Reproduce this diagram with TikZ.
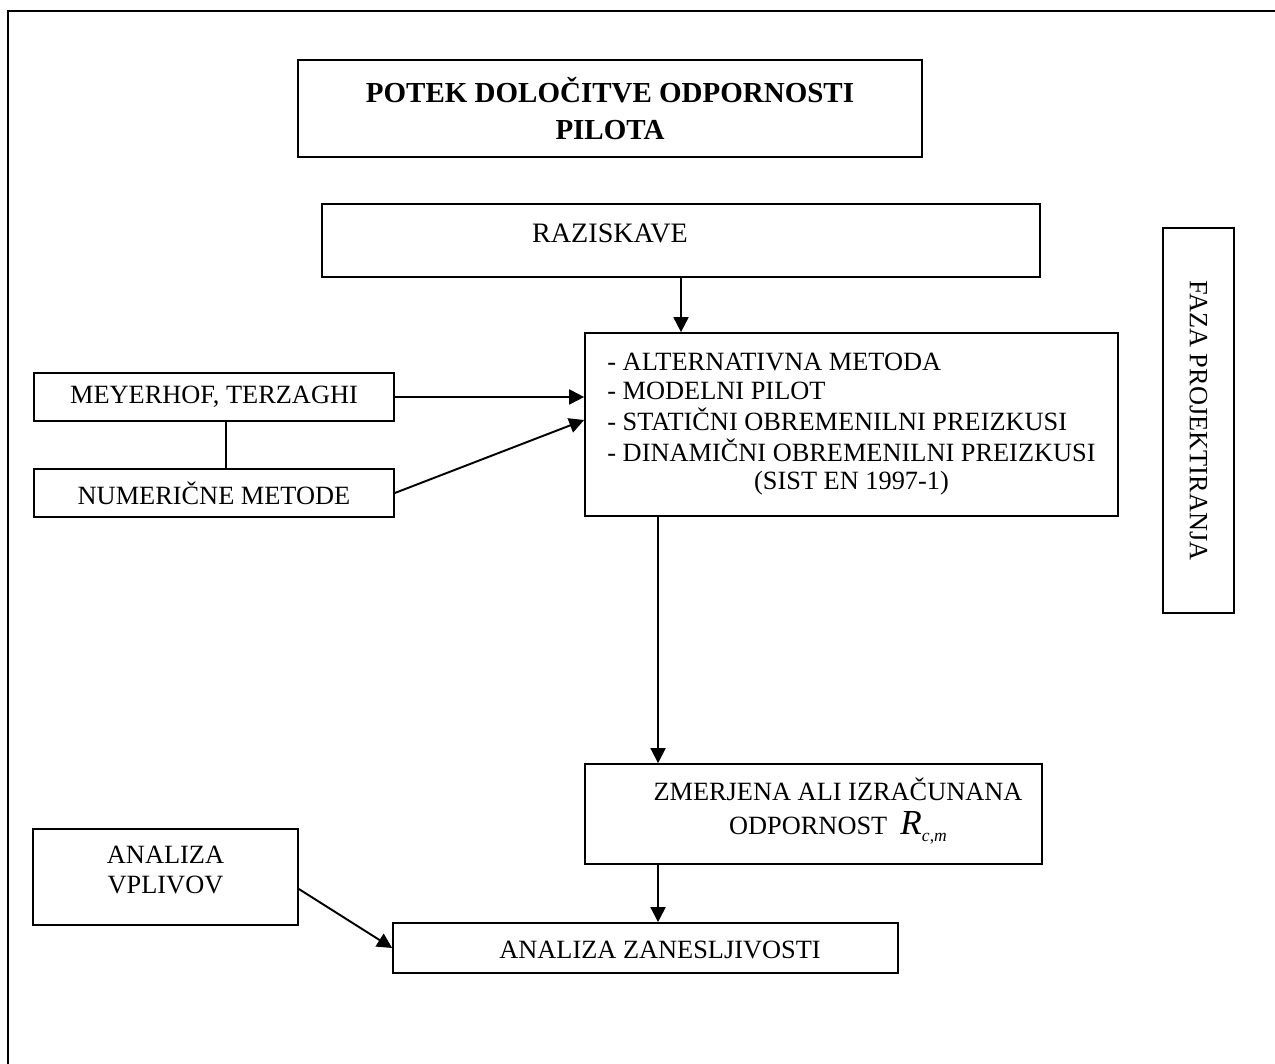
\documentclass[tikz,border=0pt]{standalone}
\usepackage{fontspec}
\setmainfont{Liberation Serif}
\usetikzlibrary{arrows.meta, positioning}

\begin{document}
\begin{tikzpicture}[x=0.02cm, y=-0.02cm]
\useasboundingbox (0,0) rectangle (1275,1064);
% outer frame (only left and top show)
\draw[line width=1.2pt] (8,1064) -- (8,11) -- (1275,11);

\begin{scope}[every node/.style={shape=rectangle,
    draw, line width=1pt, align=center, inner sep=0pt,
    font=\fontsize{15}{17}\selectfont},
    lbl/.style={draw=none, inner sep=0pt}]
    \node[minimum width=12.48cm, minimum height=1.94cm,
          font=\fontsize{16.5}{21}\selectfont\bfseries] (tit) at (610,108.5)
          {POTEK DOLOČITVE ODPORNOSTI\\PILOTA};
    \node[minimum width=14.36cm, minimum height=1.46cm,
          label={[lbl, xshift=-1.42cm, yshift=0.15cm, font=\fontsize{16}{18}\selectfont]center:RAZISKAVE}] (raz) at (681,240.5) {};
    \node[minimum width=10.66cm, minimum height=3.66cm,
          font=\fontsize{15}{16.2}\selectfont] (met) at (851.5,424.5)
          {\begin{tabular}{@{}l@{}}
           - ALTERNATIVNA METODA\\
           - MODELNI PILOT\\
           - STATIČNI OBREMENILNI PREIZKUSI\\
           - DINAMIČNI OBREMENILNI PREIZKUSI\\
           \multicolumn{1}{@{}c@{}}{(SIST EN 1997-1)}
           \end{tabular}};
    \node[minimum width=7.2cm, minimum height=0.96cm] (mey) at (214,397) {MEYERHOF, TERZAGHI};
    \node[minimum width=7.2cm, minimum height=0.96cm] (num) at (214,493) {NUMERIČNE METODE};
    \node[minimum width=9.14cm, minimum height=2cm,
          label={[lbl, xshift=0.49cm, yshift=0.06cm, font=\fontsize{15}{19}\selectfont]center:ZMERJENA ALI IZRAČUNANA\\ODPORNOST\ \ {\fontsize{20}{20}\selectfont\itshape R}\raisebox{-0.6ex}{\fontsize{10}{10}\selectfont\itshape c\upshape,\itshape m}}] (rcm) at (813.5,814) {};
    \node[minimum width=5.3cm, minimum height=1.92cm,
          label={[lbl, yshift=0.14cm]center:ANALIZA\\VPLIVOV}] (vpl) at (165.5,877) {};
    \node[minimum width=10.1cm, minimum height=1cm,
          label={[lbl, xshift=0.29cm, yshift=-0.04cm]center:ANALIZA ZANESLJIVOSTI}] (zan) at (645.5,948) {};
    \node[minimum width=7.7cm, minimum height=1.42cm, rotate=-90] (faz) at (1198.5,420.5) {FAZA PROJEKTIRANJA};
\end{scope}

\begin{scope}[every edge/.style={draw, line width=1.1pt,
              -{Triangle[width=8.5pt,length=8.5pt]}}]
    \path (raz.south) edge (raz.south |- met.north);
    \path (mey.east) edge (mey.east -| met.west);
    \path (num.east) edge ([yshift=0.09cm]met.west);
    \path ([xshift=0.24cm]mey.south) edge[-] ([xshift=0.24cm]num.north);
    \coordinate (m1) at ([xshift=-3.87cm]met.south);
    \path (m1) edge (m1 |- rcm.north);
    \coordinate (r1) at (m1 |- rcm.south);
    \path (r1) edge (r1 |- zan.north);
    \path ([yshift=-0.24cm]vpl.east) edge (zan.west);
\end{scope}
\end{tikzpicture}
\end{document}
